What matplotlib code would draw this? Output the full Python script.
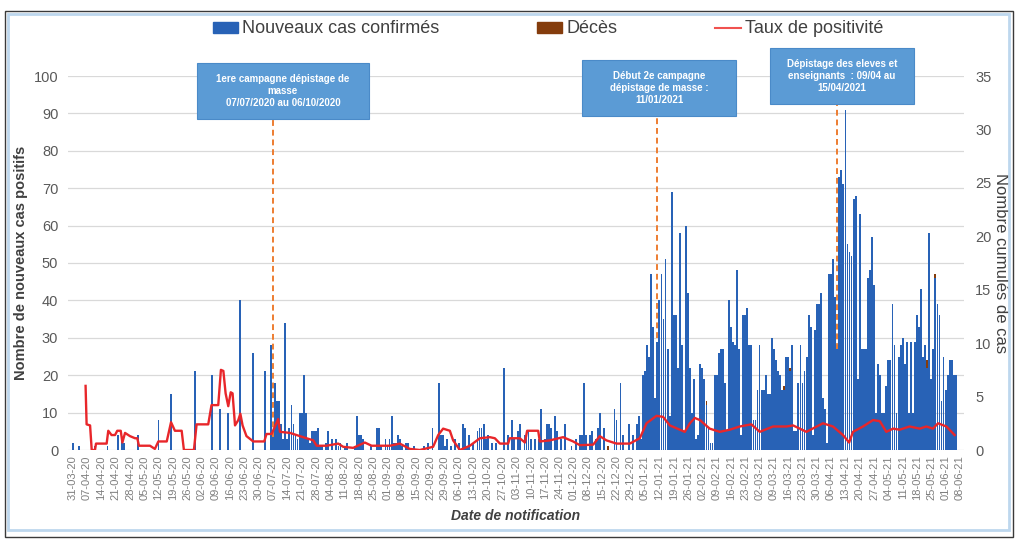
import numpy as np
import pandas as pd
import matplotlib
matplotlib.use("Agg")
import matplotlib.pyplot as plt
from matplotlib.patches import Rectangle, Patch
from matplotlib.lines import Line2D

plt.rcParams['font.family'] = ['Liberation Sans', 'DejaVu Sans']

# ---- data ----
debut = pd.Timestamp('2020-03-31')

# nouveaux cas confirmés, un chiffre par jour (une ligne = une semaine)
nouveaux_cas = [
    2, 0, 0, 1, 0, 0, 0,        # 31-03-20
    0, 0, 0, 0, 1, 0, 0,        # 07-04-20
    0, 0, 0, 1, 0, 0, 0,        # 14-04-20
    0, 4, 0, 3, 2, 0, 0,        # 21-04-20
    0, 0, 0, 0, 4, 0, 0,        # 28-04-20
    0, 0, 0, 0, 0, 0, 0,        # 05-05-20
    8, 0, 0, 0, 0, 0, 15,       # 12-05-20
    0, 0, 0, 0, 0, 0, 0,        # 19-05-20
    0, 0, 0, 0, 21, 0, 0,       # 26-05-20
    0, 0, 0, 0, 0, 20, 0,       # 02-06-20
    0, 0, 11, 0, 0, 0, 10,      # 09-06-20
    0, 0, 0, 0, 0, 40, 0,       # 16-06-20
    0, 0, 0, 0, 26, 0, 0,       # 23-06-20
    0, 0, 0, 21, 0, 0, 28,      # 30-06-20
    5, 18, 13, 13, 7, 3, 34,    # 07-07-20
    3, 6, 12, 7, 4, 3, 10,      # 14-07-20
    10, 20, 10, 3, 2, 5, 5,     # 21-07-20
    5, 6, 1, 1, 0, 2, 5,        # 28-07-20
    0, 3, 0, 3, 1, 2, 0,        # 04-08-20
    1, 2, 0, 0, 0, 1, 9,        # 11-08-20
    4, 4, 3, 0, 0, 0, 1,        # 18-08-20
    0, 0, 6, 6, 1, 0, 3,        # 25-08-20
    1, 3, 9, 2, 2, 4, 3,        # 01-09-20
    1, 0, 2, 2, 0, 0, 1,        # 08-09-20
    0, 0, 0, 0, 1, 0, 2,        # 15-09-20
    0, 6, 0, 0, 18, 4, 4,       # 22-09-20
    1, 3, 0, 1, 0, 3, 0,        # 29-09-20
    2, 0, 7, 6, 1, 4, 0,        # 06-10-20
    2, 0, 5, 6, 6, 7, 3,        # 13-10-20
    4, 0, 2, 0, 2, 0, 0,        # 20-10-20
    0, 22, 0, 4, 0, 8, 3,       # 27-10-20
    0, 5, 7, 0, 4, 4, 5,        # 03-11-20
    3, 0, 3, 0, 3, 11, 0,       # 10-11-20
    3, 7, 7, 6, 0, 9, 5,        # 17-11-20
    0, 3, 0, 7, 0, 0, 1,        # 24-11-20
    0, 3, 0, 4, 4, 18, 4,       # 01-12-20
    0, 4, 5, 0, 3, 6, 10,       # 08-12-20
    0, 6, 0, 0, 0, 0, 11,       # 15-12-20
    8, 0, 18, 4, 0, 0, 7,       # 22-12-20
    0, 4, 0, 7, 9, 3, 20,       # 29-12-20
    21, 28, 25, 47, 33, 14, 29,  # 05-01-21
    40, 47, 35, 51, 27, 9, 69,   # 12-01-21
    36, 36, 22, 58, 28, 5, 60,   # 19-01-21
    42, 22, 10, 19, 3, 4, 23,    # 26-01-21
    22, 19, 12, 6, 2, 2, 20,     # 02-02-21
    20, 26, 27, 27, 18, 5, 40,   # 09-02-21
    33, 29, 28, 48, 27, 4, 36,   # 16-02-21
    36, 38, 28, 28, 8, 8, 16,    # 23-02-21
    28, 16, 16, 20, 15, 15, 30,  # 02-03-21
    27, 24, 21, 20, 16, 16, 25,  # 09-03-21
    25, 21, 28, 5, 5, 18, 28,    # 16-03-21
    18, 21, 25, 36, 33, 4, 32,   # 23-03-21
    39, 39, 42, 14, 11, 2, 47,   # 30-03-21
    47, 51, 41, 28, 73, 75, 71,  # 06-04-21
    91, 55, 53, 52, 67, 68, 19,  # 13-04-21
    63, 27, 27, 27, 46, 48, 57,  # 20-04-21
    44, 10, 23, 20, 10, 10, 17,  # 27-04-21
    24, 24, 39, 28, 10, 25, 28,  # 04-05-21
    30, 23, 29, 10, 29, 10, 29,  # 11-05-21
    36, 33, 43, 25, 28, 22, 58,  # 18-05-21
    19, 27, 46, 39, 36, 13, 25,  # 25-05-21
    16, 20, 24, 24, 20, 20, 0,   # 01-06-21
    0,                           # 08-06-21
]

# décès (jours où la série apparaît)
deces_jours = [262, 310, 348, 351, 418, 422]
deces_valeurs = [1, 13, 17, 22, 24, 47]

# taux de positivité (%), relevé point par point sur la courbe
taux_jours = [6.3, 6.8, 8.5, 9.3, 10.9, 11.4, 16.6, 17.4, 19, 20.7, 21.8, 23.5, 24.3, 25.6, 28,
              30.5, 31.6, 32.4, 37.8, 40.2, 41.9, 46, 48.1, 50, 53.3, 54.4, 59.3, 60.6, 66.3,
              67.9, 71.2, 72.5, 73.7, 74.8, 76.1, 77.3, 78.2, 79.4, 81, 82, 83.1, 85, 88.3,
              93.7, 94.8, 97.3, 100.5, 101.4, 106.3, 111.1, 117.7, 119.3, 124.2, 129.9, 132.3,
              137.2, 142.9, 146.2, 155.2, 160, 164.9, 169.8, 176.3, 178.8, 181.2, 184.5, 186.1,
              189.4, 194.3, 199.2, 204.1, 206.5, 209, 213, 213.8, 218.7, 221.2, 222.3, 227.7,
              228.5, 233.4, 239.9, 244.8, 248.1, 254.6, 257.8, 261.1, 266, 272.5, 277.4, 280.7,
              285.6, 288.8, 292.1, 297, 299.4, 301.9, 304.3, 306.8, 311.6, 316.5, 321.4, 326.3,
              332, 336.1, 342.6, 349.1, 352.4, 358.9, 367, 371.9, 376.8, 379.8, 381.7, 386.6,
              391.5, 394.8, 398, 401.3, 404.5, 409.4, 414.3, 417.6, 420.8, 423.3, 427.4, 431.4]
taux_valeurs = [6.0, 2.4, 2.3, 0, 0, 0.6, 0.6, 1.8, 1.4, 1.4, 1.8, 1.8, 0.7, 1.6, 1.3,
                1.1, 1.1, 0.4, 0.4, 0.1, 0.8, 0.8, 2.6, 1.8, 1.8, 0, 0, 2.4, 2.4,
                4.2, 4.2, 7.5, 7.4, 5.3, 4.1, 5.4, 5.3, 2.3, 2.8, 3.4, 2.3, 1.3, 0.8,
                0.8, 1.5, 1.5, 2.9, 1.7, 1.6, 1.3, 0.9, 0.4, 0.4, 0.6, 0.3,
                0.2, 0.7, 0.4, 0.4, 0.6, 0.1, 0, 0.3, 1.4, 2.0, 1.8, 0.9,
                0, 0.4, 1.1, 1.2, 1.1, 0.6, 0.6, 1.1, 1.1, 0.7, 1.8, 1.8,
                0.8, 0.9, 1.2, 0.8, 0.45, 0.5, 1.3, 0.9, 0.6, 0.6, 1.1, 2.5,
                3.2, 3.1, 2.3, 1.9, 1.7, 2.5, 3.0, 2.8, 2.0, 1.7, 1.9, 2.2,
                2.4, 1.7, 2.2, 2.2, 2.3, 1.7, 2.5, 2.2, 1.4, 0.7, 1.7, 2.2,
                2.8, 2.7, 1.7, 2.0, 1.9, 2.2, 2.0, 2.2, 2.0, 2.5, 2.2, 1.4]

# campagnes de dépistage
campagnes_dates = ['2020-07-07', '2021-01-11', '2021-04-09']
campagnes_bas = [3.5, 30, 27]
campagnes_haut = [88.5, 89.3, 92.5]
campagnes_textes = ["1ere campagne dépistage de\nmasse\n07/07/2020 au 06/10/2020",
                    "Début 2e campagne\ndépistage de masse :\n11/01/2021",
                    "Dépistage des eleves et\nenseignants  : 09/04 au\n15/04/2021"]

# ---- figure ----
W, H = 1016, 542
fig = plt.figure(figsize=(W / 100, H / 100), dpi=100)

def fx(px):
    return px / W

def fy(py):
    return 1 - py / H

# cadre
fig.add_artist(Rectangle((fx(5), fy(537)), fx(1008), 526 / H, transform=fig.transFigure,
                         fill=False, ec='#3a3a3a', lw=1.0))
fig.add_artist(Rectangle((fx(8), fy(530)), fx(1001), 516 / H, transform=fig.transFigure,
                         fill=False, ec='#BDD7EE', lw=2.0))

ax = fig.add_axes([fx(68), fy(450), 896 / W, 374 / H])

dates = debut + pd.to_timedelta(np.arange(len(nouveaux_cas)), unit='D')
dates_deces = debut + pd.to_timedelta(deces_jours, unit='D')
dates_taux = debut + pd.to_timedelta(taux_jours, unit='D')

bleu = '#2862B6'
ax.bar(dates_deces, deces_valeurs, width=0.9, color='#843C0C', lw=0, antialiased=False, zorder=1)
ax.bar(dates, nouveaux_cas, width=0.9, color=bleu, lw=0, antialiased=False, zorder=2)

ax.set_ylim(0, 100)
ax.set_yticks(range(0, 101, 10))
ax.set_xlim(debut - pd.Timedelta(days=2.3), debut + pd.Timedelta(days=436))
ax.yaxis.grid(True, color='#D9D9D9', lw=0.9)
ax.set_axisbelow(True)

ticks = pd.date_range('2020-03-31', '2021-06-08', freq='7D')
ax.set_xticks(ticks)
ax.set_xticklabels([t.strftime('%d-%m-%y') for t in ticks], rotation=90, fontsize=8, color='#7f7f7f')
ax.tick_params(axis='x', length=0, pad=4)
ax.tick_params(axis='y', length=0, labelsize=10.5, labelcolor='#595959', pad=7)
for s in ax.spines.values():
    s.set_visible(False)

ax.set_ylabel('Nombre de nouveaux cas positifs', fontsize=10.5, fontweight='bold', color='#404040', labelpad=4)
ax.set_xlabel('Date de notification', fontsize=10, fontweight='bold', style='italic', color='#404040', labelpad=6)

# lignes pointillées des campagnes
for d, lo, hi in zip(campagnes_dates, campagnes_bas, campagnes_haut):
    ax.vlines(pd.Timestamp(d), lo, hi, colors='#ED7D31', linestyles=(0, (3, 2)), lw=1.4, zorder=3)

ax2 = ax.twinx()
ax2.plot(dates_taux, taux_valeurs, color='#E8262A', lw=1.7)
ax2.set_ylim(0, 35)
ax2.set_yticks(range(0, 36, 5))
ax2.tick_params(axis='y', length=0, labelsize=10.5, labelcolor='#595959', pad=8)
for s in ax2.spines.values():
    s.set_visible(False)
ax2.set_ylabel('Nombre cumulés de cas', fontsize=12, color='#404040', rotation=270, labelpad=12)

# boîtes de texte
boites = [(197, 63, 172, 56), (582, 60, 154, 56), (770, 48, 144, 56)]
for (bx, by, bw, bh), txt in zip(boites, campagnes_textes):
    fig.add_artist(Rectangle((fx(bx), fy(by + bh)), bw / W, bh / H, transform=fig.transFigure,
                             fc='#5B9BD5', ec='#4A8AC8', lw=0.8, zorder=5))
    fig.text(fx(bx + bw / 2), fy(by + bh / 2), txt, ha='center', va='center', color='white',
             fontsize=7, fontweight='bold', linespacing=1.25, zorder=6)

# légende
handles = [Patch(color=bleu), Patch(color='#843C0C'), Line2D([], [], color='#F0524F', lw=1.5)]
fig.legend(handles, ['Nouveaux cas confirmés', 'Décès', 'Taux de positivité'],
           loc='center', bbox_to_anchor=(fx(548), fy(29)), ncol=3, frameon=False,
           fontsize=13, handlelength=1.4, handleheight=0.55, handletextpad=0.25,
           columnspacing=5.4, labelcolor='#404040')

fig.savefig('out.png', dpi=100)
